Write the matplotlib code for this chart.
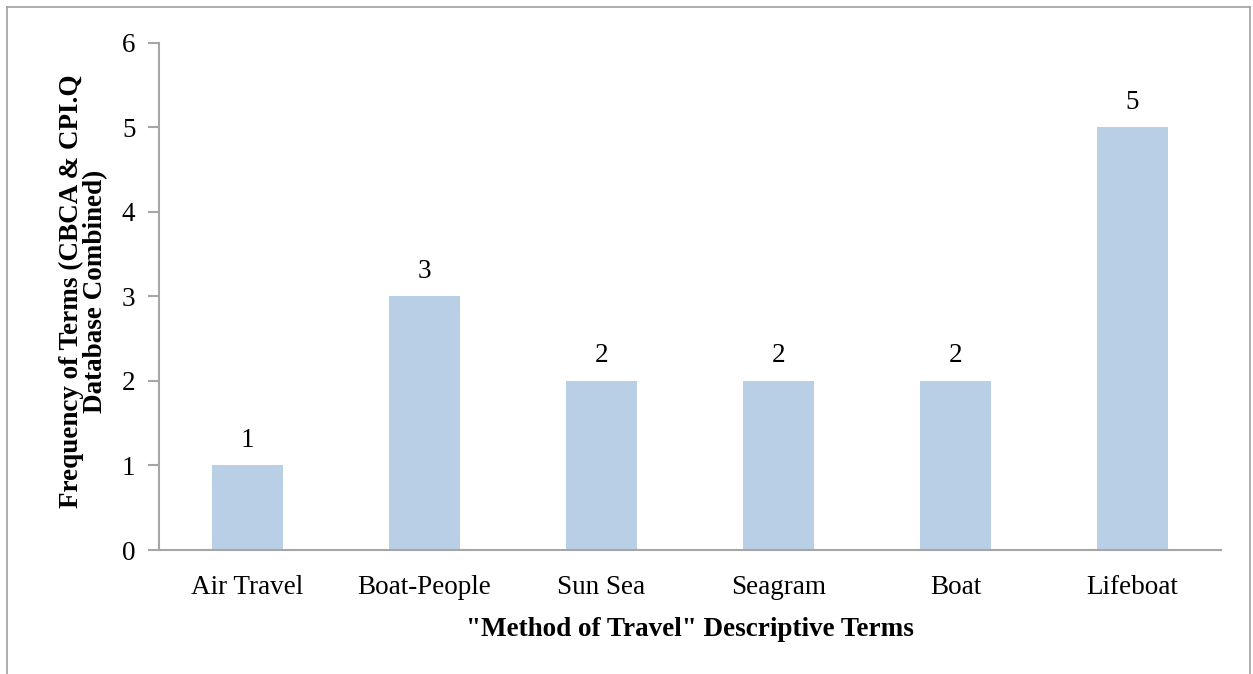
import matplotlib
matplotlib.use("Agg")
import matplotlib.pyplot as plt
from matplotlib.lines import Line2D

categories = ["Air Travel", "Boat-People", "Sun Sea", "Seagram", "Boat", "Lifeboat"]
values = [1, 3, 2, 2, 2, 5]
yticks = [0, 1, 2, 3, 4, 5, 6]

plt.rcParams['font.family'] = ['Liberation Serif', 'DejaVu Serif']

W, H = 1253, 674
fig = plt.figure(figsize=(W/100, H/100), dpi=100)
ax = fig.add_axes([159/W, 1 - 550/H, (1221-159)/W, (550-42.5)/H])

fs = 19.5
axis_color = '#a6a6a6'
x = list(range(len(categories)))
bars = ax.bar(x, values, width=0.4, color='#b9cfe5')
ax.set_xlim(-0.5, len(categories) - 0.5)
ax.set_ylim(0, 6)
ax.set_yticks(yticks)
ax.set_xticks(x)
ax.set_xticklabels(categories, fontsize=fs)
ax.tick_params(axis='x', length=0, pad=18)
ax.tick_params(axis='y', length=8, width=1.5, color=axis_color, labelsize=fs, pad=9)
for s in ['top', 'right']:
    ax.spines[s].set_visible(False)
for s in ['left', 'bottom']:
    ax.spines[s].set_color(axis_color)
    ax.spines[s].set_linewidth(1.5)

for xi, v in zip(x, values):
    ax.annotate(str(v), (xi, v), xytext=(0, 9), textcoords='offset points',
                ha='center', va='bottom', fontsize=fs)

ax.set_xlabel('"Method of Travel" Descriptive Terms', fontsize=fs, fontweight='bold', labelpad=12)
ax.set_ylabel('Frequency of Terms (CBCA & CPI.Q\nDatabase Combined)', fontsize=fs,
              fontweight='bold', linespacing=0.95)
ax.yaxis.set_label_coords(-0.048, 0.51)

bc = '#a0a0a0'
fig.add_artist(Line2D([7/W, 1250/W], [1 - 7/H, 1 - 7/H], transform=fig.transFigure, color=bc, lw=1.2))
fig.add_artist(Line2D([7/W, 7/W], [0, 1 - 7/H], transform=fig.transFigure, color=bc, lw=1.2))
fig.add_artist(Line2D([1250/W, 1250/W], [0, 1 - 7/H], transform=fig.transFigure, color=bc, lw=1.2))

fig.savefig("out.png", dpi=100)
